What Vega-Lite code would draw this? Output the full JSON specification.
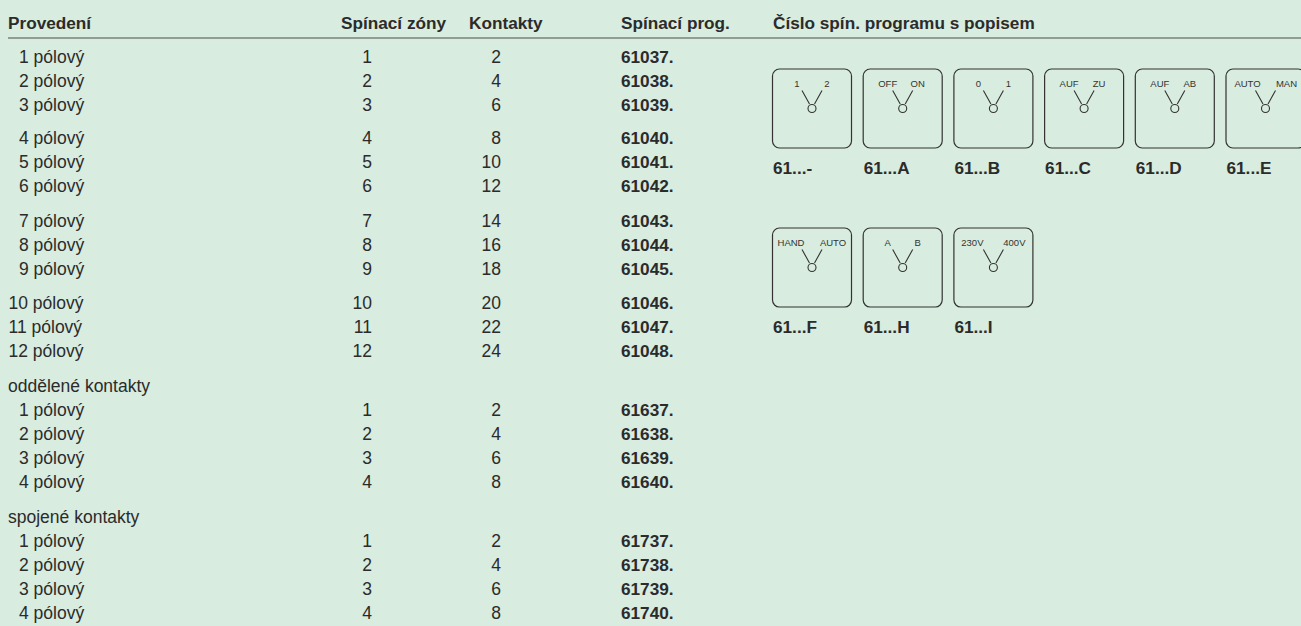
{
"$schema":"https://vega.github.io/schema/vega-lite/v6.json",
"width":1301,"height":626,"padding":0,
"autosize":"none",
"background":"#d8ecdf",
"config":{"view":{"stroke":null},"text":{"font":"Liberation Sans","fontSize":17.5,"color":"#2b2b2b","align":"left","baseline":"alphabetic"}},
"datasets":{
"rows":[
{"row":0,"design":"1 pólový","zones":"1","contacts":"2","prog":"61037."},
{"row":1,"design":"2 pólový","zones":"2","contacts":"4","prog":"61038."},
{"row":2,"design":"3 pólový","zones":"3","contacts":"6","prog":"61039."},
{"row":3.39,"design":"4 pólový","zones":"4","contacts":"8","prog":"61040."},
{"row":4.39,"design":"5 pólový","zones":"5","contacts":"10","prog":"61041."},
{"row":5.39,"design":"6 pólový","zones":"6","contacts":"12","prog":"61042."},
{"row":6.83,"design":"7 pólový","zones":"7","contacts":"14","prog":"61043."},
{"row":7.83,"design":"8 pólový","zones":"8","contacts":"16","prog":"61044."},
{"row":8.83,"design":"9 pólový","zones":"9","contacts":"18","prog":"61045."},
{"row":10.28,"design":"10 pólový","zones":"10","contacts":"20","prog":"61046."},
{"row":11.28,"design":"11 pólový","zones":"11","contacts":"22","prog":"61047."},
{"row":12.28,"design":"12 pólový","zones":"12","contacts":"24","prog":"61048."},
{"row":14.72,"design":"1 pólový","zones":"1","contacts":"2","prog":"61637."},
{"row":15.72,"design":"2 pólový","zones":"2","contacts":"4","prog":"61638."},
{"row":16.72,"design":"3 pólový","zones":"3","contacts":"6","prog":"61639."},
{"row":17.72,"design":"4 pólový","zones":"4","contacts":"8","prog":"61640."},
{"row":20.19,"design":"1 pólový","zones":"1","contacts":"2","prog":"61737."},
{"row":21.19,"design":"2 pólový","zones":"2","contacts":"4","prog":"61738."},
{"row":22.19,"design":"3 pólový","zones":"3","contacts":"6","prog":"61739."},
{"row":23.19,"design":"4 pólový","zones":"4","contacts":"8","prog":"61740."}
],
"groups":[{"row":13.72,"label":"oddělené kontakty"},{"row":19.19,"label":"spojené kontakty"}],
"headers":[
{"row":-1.42,"col":8,"label":"Provedení"},
{"row":-1.42,"col":341,"label":"Spínací zóny"},
{"row":-1.42,"col":469,"label":"Kontakty"},
{"row":-1.42,"col":621,"label":"Spínací prog."},
{"row":-1.42,"col":773,"label":"Číslo spín. programu s popisem"}
],
"rule":[{"row":-1.03,"from":8,"to":1301}],
"symbols":[
{"slot":0,"line":0,"code":"61...-","left":"1","right":"2"},
{"slot":1,"line":0,"code":"61...A","left":"OFF","right":"ON"},
{"slot":2,"line":0,"code":"61...B","left":"0","right":"1"},
{"slot":3,"line":0,"code":"61...C","left":"AUF","right":"ZU"},
{"slot":4,"line":0,"code":"61...D","left":"AUF","right":"AB"},
{"slot":5,"line":0,"code":"61...E","left":"AUTO","right":"MAN"},
{"slot":0,"line":1,"code":"61...F","left":"HAND","right":"AUTO"},
{"slot":1,"line":1,"code":"61...H","left":"A","right":"B"},
{"slot":2,"line":1,"code":"61...I","left":"230V","right":"400V"}
]
},
"layer":[
{"layer":[
 {"data":{"name":"rows"},"transform":[{"filter":"length(datum.design)<9"}],"mark":{"type":"text"},"encoding":{"x":{"datum":19,"type":"quantitative","scale":{"domain":[0,1301],"nice":false,"zero":false},"axis":null},"y":{"field":"row","type":"quantitative","scale":{"domain":[23.47,-2.6125],"nice":false,"zero":false},"axis":null},"text":{"field":"design","type":"nominal"}}},
 {"data":{"name":"rows"},"transform":[{"filter":"length(datum.design)>=9"}],"mark":{"type":"text"},"encoding":{"x":{"datum":8.5,"type":"quantitative","scale":{"domain":[0,1301],"nice":false,"zero":false},"axis":null},"y":{"field":"row","type":"quantitative","scale":{"domain":[23.47,-2.6125],"nice":false,"zero":false},"axis":null},"text":{"field":"design","type":"nominal"}}},
 {"data":{"name":"groups"},"mark":{"type":"text"},"encoding":{"x":{"datum":8,"type":"quantitative","scale":{"domain":[0,1301],"nice":false,"zero":false},"axis":null},"y":{"field":"row","type":"quantitative","scale":{"domain":[23.47,-2.6125],"nice":false,"zero":false},"axis":null},"text":{"field":"label","type":"nominal"}}},
 {"data":{"name":"rows"},"mark":{"type":"text","align":"right"},"encoding":{"x":{"datum":372,"type":"quantitative","scale":{"domain":[0,1301],"nice":false,"zero":false},"axis":null},"y":{"field":"row","type":"quantitative","scale":{"domain":[23.47,-2.6125],"nice":false,"zero":false},"axis":null},"text":{"field":"zones","type":"nominal"}}},
 {"data":{"name":"rows"},"mark":{"type":"text","align":"right"},"encoding":{"x":{"datum":501,"type":"quantitative","scale":{"domain":[0,1301],"nice":false,"zero":false},"axis":null},"y":{"field":"row","type":"quantitative","scale":{"domain":[23.47,-2.6125],"nice":false,"zero":false},"axis":null},"text":{"field":"contacts","type":"nominal"}}},
 {"data":{"name":"rows"},"mark":{"type":"text","fontWeight":"bold","fontSize":17.2},"encoding":{"x":{"datum":621,"type":"quantitative","scale":{"domain":[0,1301],"nice":false,"zero":false},"axis":null},"y":{"field":"row","type":"quantitative","scale":{"domain":[23.47,-2.6125],"nice":false,"zero":false},"axis":null},"text":{"field":"prog","type":"nominal"}}},
 {"data":{"name":"headers"},"mark":{"type":"text","fontWeight":"bold","fontSize":17.2},"encoding":{"x":{"field":"col","type":"quantitative","scale":{"domain":[0,1301],"nice":false,"zero":false},"axis":null},"y":{"field":"row","type":"quantitative","scale":{"domain":[23.47,-2.6125],"nice":false,"zero":false},"axis":null},"text":{"field":"label","type":"nominal"}}},
 {"data":{"name":"rule"},"mark":{"type":"rule","color":"#7c807c","strokeWidth":1.6},"encoding":{"x":{"field":"from","type":"quantitative","scale":{"domain":[0,1301],"nice":false,"zero":false},"axis":null},"x2":{"field":"to"},"y":{"field":"row","type":"quantitative","scale":{"domain":[23.47,-2.6125],"nice":false,"zero":false},"axis":null}}}
 ]
},
{"data":{"name":"symbols"},
 "encoding":{
  "x":{"field":"slot","type":"quantitative","scale":{"domain":[-8.9526,5.3914],"nice":false,"zero":false},"axis":null},
  "y":{"field":"line","type":"quantitative","scale":{"domain":[3.2547,-0.6824],"nice":false,"zero":false},"axis":null}
 },
 "layer":[
 {"mark":{"type":"rect","width":79,"height":79,"cornerRadius":7,"fillOpacity":0,"stroke":"#333333","strokeWidth":1.2}},
 {"mark":{"type":"point","filled":false,"size":4,"stroke":"#333333","strokeWidth":1.1,"opacity":1,"shape":"M-10 -18 L-2.5 -4.5 M10 -18 L2.5 -4.5 M4 0 A4 4 0 1 1 -4 0 A4 4 0 1 1 4 0 Z"}},
 {"transform":[{"filter":"indexof(['61...E','61...F','61...I'],datum.code)<0"}],"mark":{"type":"text","align":"center","fontSize":9.5,"dx":-15,"dy":-21.6,"color":"#333333"},"encoding":{"text":{"field":"left","type":"nominal"}}},
 {"transform":[{"filter":"indexof(['61...E','61...F','61...I'],datum.code)<0"}],"mark":{"type":"text","align":"center","fontSize":9.5,"dx":15,"dy":-21.6,"color":"#333333"},"encoding":{"text":{"field":"right","type":"nominal"}}},
 {"transform":[{"filter":"indexof(['61...F','61...I'],datum.code)>=0"}],"mark":{"type":"text","align":"center","fontSize":9.5,"dx":-21,"dy":-21.6,"color":"#333333"},"encoding":{"text":{"field":"left","type":"nominal"}}},
 {"transform":[{"filter":"indexof(['61...F','61...I'],datum.code)>=0"}],"mark":{"type":"text","align":"center","fontSize":9.5,"dx":21,"dy":-21.6,"color":"#333333"},"encoding":{"text":{"field":"right","type":"nominal"}}},
 {"transform":[{"filter":"datum.code==='61...E'"}],"mark":{"type":"text","align":"center","fontSize":9.5,"dx":-18,"dy":-21.6,"color":"#333333"},"encoding":{"text":{"field":"left","type":"nominal"}}},
 {"transform":[{"filter":"datum.code==='61...E'"}],"mark":{"type":"text","align":"center","fontSize":9.5,"dx":21,"dy":-21.6,"color":"#333333"},"encoding":{"text":{"field":"right","type":"nominal"}}},
 {"mark":{"type":"text","fontWeight":"bold","fontSize":17.2,"dx":-39,"dy":65.5},"encoding":{"text":{"field":"code","type":"nominal"}}}
 ]
}
],
"resolve":{"scale":{"x":"independent","y":"independent"}}
}
